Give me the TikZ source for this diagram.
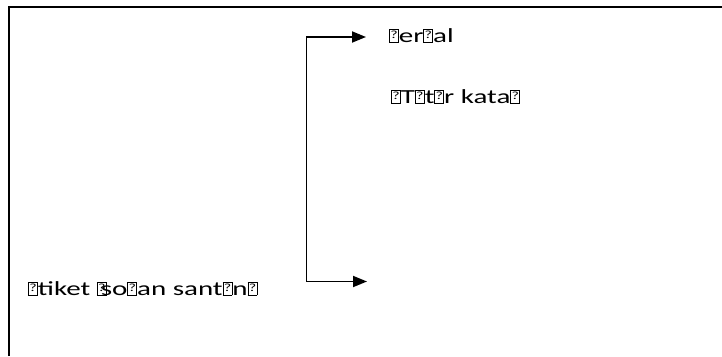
\documentclass[tikz,border=0pt]{standalone}
\usepackage{fontspec}
\setmainfont{Carlito}
\usetikzlibrary{arrows.meta}
\newcommand{\nd}{{\setlength{\fboxsep}{0pt}\setlength{\fboxrule}{0.6pt}\fbox{\rule{0pt}{12.5pt}\makebox[5.5pt]{\raisebox{3.5pt}{\scalebox{0.55}{?}}}}}}
\newcommand{\wide}[1]{\scalebox{1.45}[1]{#1}}

\begin{document}
\begin{tikzpicture}[x=1pt, y=-1pt,
  label text/.style={anchor=base west, inner sep=0pt, font=\fontsize{20}{24}\selectfont},
  flow/.style={line width=1.8pt, {Triangle[length=14pt,width=11pt]}-{Triangle[length=14pt,width=11pt]}}]
			%%%%% START %%%%%
			\useasboundingbox (0,0) rectangle (722,356);
			
			\draw[line width=2pt] (8.5,356) -- (8.5,7) -- (722,7);
			
			\node[label text] (upper) at (389,42) {\wide{\nd er\nd al}};
			\node[label text] (middle) at (391,103) {\wide{\nd T\nd t\nd r kata\nd}};
			\node[label text] (lower) at (28,295) {\wide{\nd tiket \nd\kern-4pt so\nd an sant\nd n\nd}};
			
			\coordinate (upper tip) at (366,37);
			\coordinate (upper bend) at (306.5,37);
			\coordinate (lower bend) at (306.5,281.5);
			\coordinate (lower tip) at (367,281.5);
			
			\draw[flow] (upper tip) -- (upper bend) -- (lower bend) -- (lower tip);
			%%%%% END %%%%%
\end{tikzpicture}
\end{document}
